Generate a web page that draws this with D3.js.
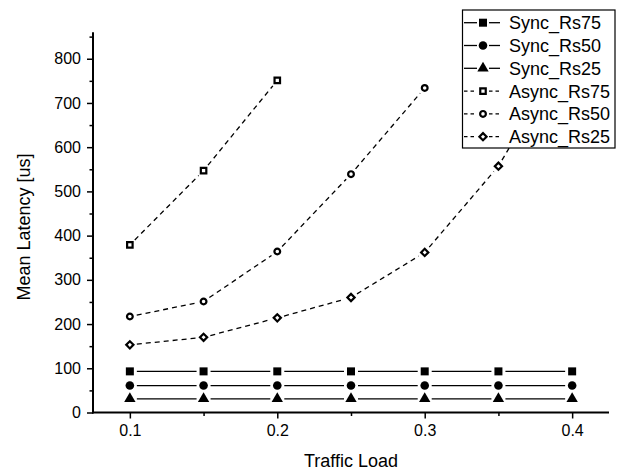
<!DOCTYPE html>
<html>
<head>
<meta charset="utf-8">
<script src="https://cdn.jsdelivr.net/npm/d3@7"></script>
<style>
  html, body { margin: 0; padding: 0; background: #fff; }
  svg { display: block; font-family: "Liberation Sans", Arial, sans-serif; }
</style>
</head>
<body>
<svg id="chart" width="628" height="470"></svg>
<script>
// ---- data ----
const loadsSync = [0.1, 0.15, 0.2, 0.25, 0.3, 0.35, 0.4];
const syncRs75 = [93, 93, 93, 93, 93, 93, 93];
const syncRs50 = [61, 61, 61, 61, 61, 61, 61];
const syncRs25 = [31, 31, 31, 31, 31, 31, 31];

const loadsAsync75 = [0.1, 0.15, 0.2];
const asyncRs75 = [379, 547, 751];
const loadsAsync50 = [0.1, 0.15, 0.2, 0.25, 0.3];
const asyncRs50 = [217, 251, 364, 539, 734];
const loadsAsync25 = [0.1, 0.15, 0.2, 0.25, 0.3, 0.35, 0.4];
const asyncRs25 = [153, 170, 214, 260, 362, 557, 840];

const seriesNames = ["Sync_Rs75", "Sync_Rs50", "Sync_Rs25", "Async_Rs75", "Async_Rs50", "Async_Rs25"];
const xTickValues = [0.1, 0.2, 0.3, 0.4];
const xMinorTicks = [0.15, 0.25, 0.35];
const yTickValues = [0, 100, 200, 300, 400, 500, 600, 700, 800];
const yMinorTicks = [50, 150, 250, 350, 450, 550, 650, 750, 850];
const xTitle = "Traffic Load";
const yTitle = "Mean Latency [us]";

// ---- build series ----
const series = [
  { name: seriesNames[0], xs: loadsSync, ys: syncRs75, marker: "square", filled: true, dashed: false },
  { name: seriesNames[1], xs: loadsSync, ys: syncRs50, marker: "circle", filled: true, dashed: false },
  { name: seriesNames[2], xs: loadsSync, ys: syncRs25, marker: "triangle", filled: true, dashed: false },
  { name: seriesNames[3], xs: loadsAsync75, ys: asyncRs75, marker: "square", filled: false, dashed: true },
  { name: seriesNames[4], xs: loadsAsync50, ys: asyncRs50, marker: "circle", filled: false, dashed: true },
  { name: seriesNames[5], xs: loadsAsync25, ys: asyncRs25, marker: "diamond", filled: false, dashed: true }
];

const svg = d3.select("#chart");
const x = d3.scaleLinear().domain([0.075, 0.425]).range([93, 609]);
const y = d3.scaleLinear().domain([0, 860]).range([412.5, 32.2]);

const axisX0 = x.range()[0];
const axisY0 = y(0);

// ---- marker drawing ----
function markerPath(type, filled) {
  const sym = {
    square: d3.symbolSquare,
    circle: d3.symbolCircle,
    triangle: d3.symbolTriangle,
    diamond: d3.symbolSquare
  }[type];
  let size;
  if (filled) size = { square: 64, circle: 58, triangle: 56, diamond: 50 }[type];
  else size = { square: 30, circle: 26, triangle: 30, diamond: 26 }[type];
  return d3.symbol().type(sym).size(size)();
}

function drawMarker(g, type, filled, cx, cy) {
  const p = g.append("path")
    .attr("d", markerPath(type, filled))
    .attr("transform", `translate(${cx},${cy})` + (type === "diamond" ? " rotate(45)" : ""));
  if (filled) p.attr("fill", "#000").attr("stroke", "none");
  else p.attr("fill", "#fff").attr("stroke", "#000").attr("stroke-width", 2.2);
}

// ---- lines with small gaps near markers ----
const plot = svg.append("g");
const gap = 7;
series.forEach(s => {
  const pts = s.xs.map((v, i) => [x(v), y(s.ys[i])]);
  for (let i = 0; i < pts.length - 1; i++) {
    const [x1, y1] = pts[i], [x2, y2] = pts[i + 1];
    const dx = x2 - x1, dy = y2 - y1, len = Math.hypot(dx, dy);
    const ux = dx / len, uy = dy / len;
    plot.append("line")
      .attr("x1", x1 + ux * gap).attr("y1", y1 + uy * gap)
      .attr("x2", x2 - ux * gap).attr("y2", y2 - uy * gap)
      .attr("stroke", "#000")
      .attr("stroke-width", 1.3)
      .attr("stroke-dasharray", s.dashed ? "5,4" : null);
  }
  pts.forEach(([px, py]) => drawMarker(plot, s.marker, s.filled, px, py));
});

// ---- axes ----
const fontTick = "16px";
const xAxis = d3.axisBottom(x).tickValues(xTickValues).tickSize(6).tickPadding(6)
  .tickFormat(d3.format(".1f"));
const gx = svg.append("g").attr("transform", `translate(0,${axisY0})`).call(xAxis);
gx.select(".domain").attr("d", `M${x.range()[0] - 1},0H${x.range()[1]}`).attr("stroke-width", 2);
gx.selectAll(".tick line").attr("stroke-width", 1.5);
gx.selectAll(".tick text").attr("font-size", fontTick).attr("font-family", "Liberation Sans, Arial, sans-serif").attr("fill", "#000");
const xMinor = d3.axisBottom(x).tickValues(xMinorTicks).tickSize(3.5).tickFormat("");
const gxm = svg.append("g").attr("transform", `translate(0,${axisY0})`).call(xMinor);
gxm.select(".domain").remove();
gxm.selectAll(".tick line").attr("stroke-width", 1.5);

const yAxis = d3.axisLeft(y).tickValues(yTickValues).tickSize(6).tickPadding(6);
const gy = svg.append("g").attr("transform", `translate(${axisX0},0)`).call(yAxis);
gy.select(".domain").attr("d", `M0,${y.range()[0] + 1}V${y.range()[1]}`).attr("stroke-width", 2);
gy.selectAll(".tick line").attr("stroke-width", 1.5);
gy.selectAll(".tick text").attr("font-size", fontTick).attr("font-family", "Liberation Sans, Arial, sans-serif").attr("fill", "#000");
const yMinor = d3.axisLeft(y).tickValues(yMinorTicks).tickSize(3.5).tickFormat("");
const gym = svg.append("g").attr("transform", `translate(${axisX0},0)`).call(yMinor);
gym.select(".domain").remove();
gym.selectAll(".tick line").attr("stroke-width", 1.5);

// ---- titles ----
svg.append("text")
  .attr("x", (x.range()[0] + x.range()[1]) / 2)
  .attr("y", 467)
  .attr("text-anchor", "middle")
  .attr("font-size", "18px")
  .attr("fill", "#000")
  .text(xTitle);
svg.append("text")
  .attr("transform", `translate(30,227) rotate(-90)`)
  .attr("text-anchor", "middle")
  .attr("font-size", "18px")
  .attr("fill", "#000")
  .text(yTitle);

// ---- legend ----
const lg = svg.append("g");
const lgX = 462.5, lgY = 10, lgW = 152.5, lgH = 138;
lg.append("rect").attr("x", lgX).attr("y", lgY).attr("width", lgW).attr("height", lgH)
  .attr("fill", "#fff").attr("stroke", "#000").attr("stroke-width", 1.2);
series.forEach((s, i) => {
  const cy = 22.7 + i * 22.8;
  const mx = 483;
  lg.append("line").attr("x1", 464).attr("x2", mx - 6).attr("y1", cy).attr("y2", cy)
    .attr("stroke", "#000").attr("stroke-width", 1.3).attr("stroke-dasharray", s.dashed ? "3.5,3" : null);
  lg.append("line").attr("x1", mx + 6).attr("x2", 500).attr("y1", cy).attr("y2", cy)
    .attr("stroke", "#000").attr("stroke-width", 1.3).attr("stroke-dasharray", s.dashed ? "3.5,3" : null);
  drawMarker(lg, s.marker, s.filled, mx, cy);
  lg.append("text").attr("x", 509).attr("y", cy + 6.5)
    .attr("font-size", "18px").attr("fill", "#000").text(s.name);
});
</script>
</body>
</html>
